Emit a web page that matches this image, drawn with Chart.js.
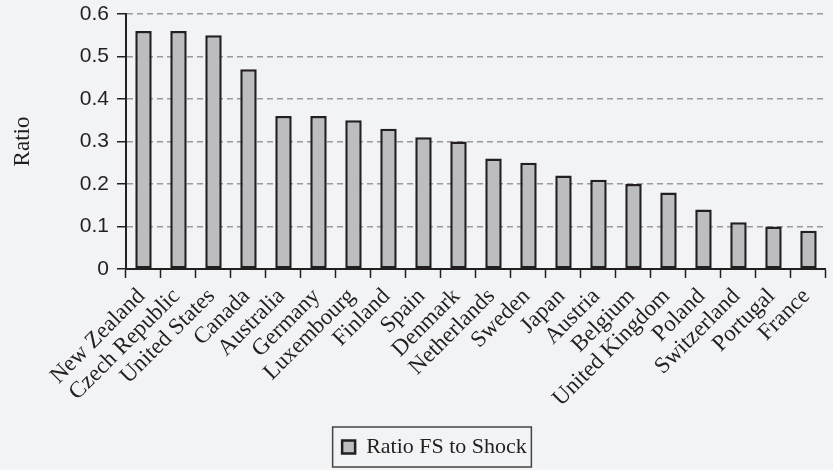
<!DOCTYPE html>
<html><head><meta charset="utf-8">
<script src="https://cdn.jsdelivr.net/npm/chart.js@4/dist/chart.umd.min.js"></script>
<style>html,body{margin:0;padding:0;background:#f2f3f5;}</style>
</head><body>
<canvas id="c" width="833" height="470"></canvas>
<script>
const categories = ["New Zealand","Czech Republic","United States","Canada","Australia","Germany","Luxembourg","Finland","Spain","Denmark","Netherlands","Sweden","Japan","Austria","Belgium","United Kingdom","Poland","Switzerland","Portugal","France"];
const ratioFSToShock = [0.56,0.56,0.55,0.47,0.36,0.36,0.35,0.33,0.31,0.30,0.26,0.25,0.22,0.21,0.20,0.18,0.14,0.11,0.10,0.09];
const seriesName = "Ratio FS to Shock";
const yAxisTitle = "Ratio";
const yMin = 0, yMax = 0.6, yStep = 0.1;

const ink = '#231f20';
const serif = "'Liberation Serif', serif";
const sans = "'Liberation Sans', Arial, sans-serif";

const legendShift = {
  id: 'legendShift',
  afterLayout(chart) {
    if (chart.legend) { chart.legend.left += 18; chart.legend.right += 18; }
  }
};

const legendBorder = {
  id: 'legendBorder',
  afterDraw(chart) {
    const hb = chart.legend && chart.legend.legendHitBoxes && chart.legend.legendHitBoxes[0];
    if (!hb) return;
    const ctx = chart.ctx;
    const cy = hb.top + hb.height / 2;
    ctx.save();
    ctx.strokeStyle = '#444';
    ctx.lineWidth = 1.5;
    ctx.strokeRect(hb.left - 9.5, cy - 20, hb.width + 14, 40);
    ctx.restore();
  }
};

new Chart(document.getElementById('c'), {
  type: 'bar',
  data: {
    labels: categories,
    datasets: [{
      label: seriesName,
      data: ratioFSToShock,
      backgroundColor: '#bcbdc1',
      borderColor: ink,
      borderWidth: 2.5,
      borderSkipped: false,
      barPercentage: 0.47,
      categoryPercentage: 1
    }]
  },
  options: {
    responsive: false,
    animation: false,
    layout: { padding: { top: 0, right: 0, left: 0, bottom: 2 } },
    plugins: {
      tooltip: { enabled: false },
      legend: {
        position: 'bottom',
        labels: {
          font: { family: serif, size: 22 },
          color: ink,
          boxWidth: 13,
          boxHeight: 13,
          padding: 9
        }
      }
    },
    scales: {
      x: {
        grid: {
          offset: true,
          drawOnChartArea: false,
          drawTicks: true,
          tickLength: 9,
          tickColor: ink,
          tickWidth: 1.5
        },
        border: { color: ink, width: 2 },
        ticks: {
          autoSkip: false,
          maxRotation: 45,
          minRotation: 45,
          font: { family: serif, size: 23 },
          color: ink,
          padding: 5,
          labelOffset: -2
        },
        afterFit(scale) { scale.height = 158; }
      },
      y: {
        min: yMin,
        max: yMax,
        ticks: {
          stepSize: yStep,
          font: { family: sans, size: 21 },
          color: ink,
          padding: 8,
          callback: v => v === 0 ? '0' : v.toFixed(1)
        },
        grid: {
          color: '#9a9a9a',
          lineWidth: 1.5,
          tickLength: 9,
          tickColor: ink,
          tickWidth: 1.5,
          tickBorderDash: []
        },
        border: { color: ink, width: 2, dash: [6, 4] },
        title: {
          display: true,
          text: yAxisTitle,
          font: { family: serif, size: 23 },
          color: ink,
          padding: { top: 9, bottom: 0 }
        },
        afterFit(scale) { scale.width = 126; scale.paddingTop = 14; }
      }
    }
  },
  plugins: [legendShift, legendBorder]
});
</script>
</body></html>
